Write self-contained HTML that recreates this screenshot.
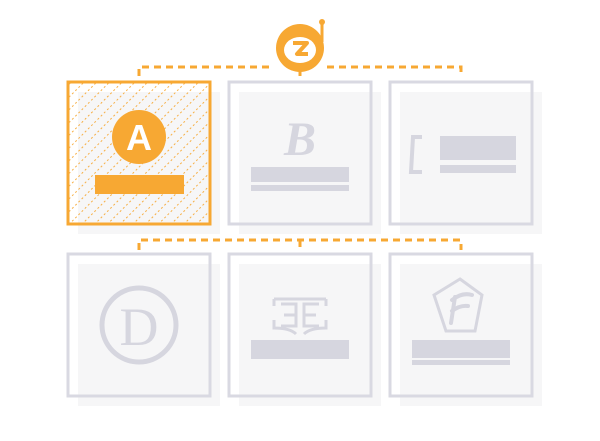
<!DOCTYPE html>
<html><head><meta charset="utf-8"><style>
html,body{margin:0;padding:0;background:#fff;width:600px;height:441px;overflow:hidden}
</style></head><body>
<svg width="600" height="441" viewBox="0 0 600 441" xmlns="http://www.w3.org/2000/svg">
<defs>
<pattern id="hatch" width="9" height="9" patternUnits="userSpaceOnUse" patternTransform="rotate(45)">
<line x1="0" y1="0" x2="0" y2="9" stroke="#f7a833" stroke-width="1.8" stroke-dasharray="2 2.5"/>
</pattern>
</defs>
<g stroke="#f7a833" stroke-width="3" fill="none" stroke-dasharray="7 5">
<path d="M139 76 V67 H272"/><path d="M327 67 H461 V76"/>
<path d="M139 250 V240 H461 V250"/><path d="M300 240 V250"/>
</g>
<g>
<line x1="322" y1="22" x2="322" y2="42" stroke="#f7a833" stroke-width="3"/>
<circle cx="322" cy="22" r="3" fill="#f7a833"/>
<circle cx="300" cy="48" r="24" fill="#f7a833"/>
<ellipse cx="300" cy="50" rx="16" ry="13" fill="#fff"/>
<path d="M293 43 H307 L297 54 H308" stroke="#f7a833" stroke-width="4" fill="none" stroke-linejoin="round"/>
<line x1="300" y1="70" x2="300" y2="76" stroke="#f7a833" stroke-width="3"/>
</g>
<g fill="#f6f6f7">
<rect x="78" y="92" width="142" height="142"/>
<rect x="239" y="92" width="142" height="142"/>
<rect x="400" y="92" width="142" height="142"/>
<rect x="78" y="264" width="142" height="142"/>
<rect x="239" y="264" width="142" height="142"/>
<rect x="400" y="264" width="142" height="142"/>
</g>
<rect x="68" y="82" width="142" height="142" fill="url(#hatch)" stroke="#f7a833" stroke-width="3"/>
<g fill="none" stroke="#d9d9e2" stroke-width="3">
<rect x="229" y="82" width="142" height="142"/>
<rect x="390" y="82" width="142" height="142"/>
<rect x="68" y="254" width="142" height="142"/>
<rect x="229" y="254" width="142" height="142"/>
<rect x="390" y="254" width="142" height="142"/>
</g>
<circle cx="139" cy="137" r="27" fill="#f7a833"/>
<text x="139" y="150" font-family="Liberation Sans, sans-serif" font-weight="bold" font-size="36" fill="#fff" text-anchor="middle">A</text>
<rect x="95" y="175" width="89" height="19" fill="#f7a833"/>
<text x="300" y="155" font-family="Liberation Serif, serif" font-style="italic" font-weight="bold" font-size="48" fill="#d6d6df" text-anchor="middle">B</text>
<rect x="251" y="167" width="98" height="15" fill="#d6d6df"/>
<rect x="251" y="185" width="98" height="6" fill="#d6d6df"/>
<path d="M422 137 H413 L411 172 H422" fill="none" stroke="#d6d6df" stroke-width="4"/>
<rect x="440" y="136" width="76" height="24" fill="#d6d6df"/>
<rect x="440" y="165" width="76" height="8" fill="#d6d6df"/>
<circle cx="139" cy="325" r="37" fill="none" stroke="#d6d6df" stroke-width="5"/>
<text x="139" y="345" font-family="Liberation Serif, serif" font-size="54" fill="#d6d6df" text-anchor="middle">D</text>
<g fill="none" stroke="#d6d6df" stroke-width="3">
<path d="M274 299 H326 M274 299 V306 M326 299 V306"/>
<path d="M281 304 H296 V326 H281 M296 315 H284"/>
<path d="M319 304 H304 V326 H319 M304 315 H316"/>
<path d="M274 320 V328 Q290 328 296 334 M326 320 V328 Q310 328 304 334"/>
</g>
<rect x="251" y="340" width="98" height="19" fill="#d6d6df"/>
<polygon points="460,279 482,295 475,331 446,331 434,295" fill="none" stroke="#d6d6df" stroke-width="3"/>
<path d="M455 297 L451 323 M452 300 Q462 292 472 295 M452 311 Q460 305 468 306" fill="none" stroke="#d6d6df" stroke-width="4" stroke-linecap="round"/>
<rect x="412" y="340" width="98" height="18" fill="#d6d6df"/>
<rect x="412" y="360" width="98" height="5" fill="#d6d6df"/>
</svg>
</body></html>
